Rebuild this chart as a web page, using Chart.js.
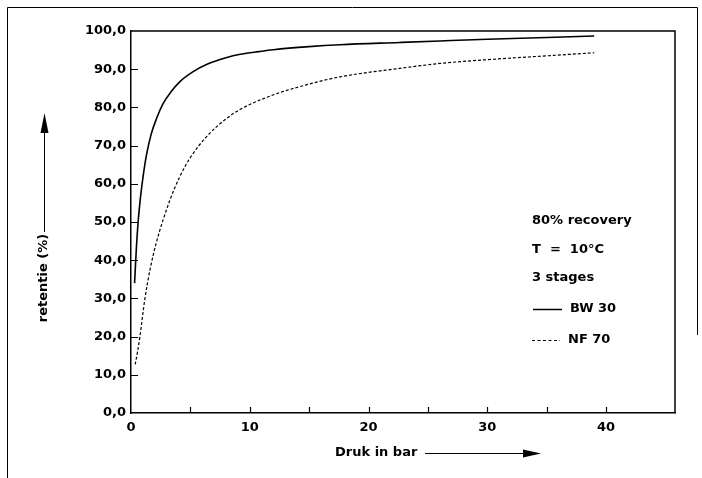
<!DOCTYPE html>
<html>
<head>
<meta charset="utf-8">
<script src="https://cdn.jsdelivr.net/npm/chart.js@4.4.1/dist/chart.umd.min.js"></script>
<style>
  html, body { margin: 0; padding: 0; background: #fff; }
  #wrap { width: 702px; height: 478px; position: relative; }
</style>
</head>
<body>
<div id="wrap"><canvas id="retentie" width="702" height="478"></canvas></div>
<script>
// druk (bar) en retentie (%)
const bwDruk = [0.3, 0.45, 0.6, 0.8, 1.0, 1.3, 1.7, 2.2, 2.7, 3.4, 4.1, 5.2, 6.4, 8, 9.2, 10.5, 12, 15, 17.6, 22.6, 26, 30, 35, 39];
const bwRetentie = [34, 43, 50, 56.5, 61.5, 67.5, 73, 77.5, 81, 84.2, 86.7, 89.3, 91.3, 93.0, 93.9, 94.5, 95.1, 95.9, 96.4, 97.0, 97.4, 97.85, 98.3, 98.7];

const nfDruk = [0.35, 0.55, 0.75, 1.15, 1.6, 2.15, 3.25, 4.1, 5, 6.35, 8, 9.2, 12, 15, 17.6, 22.6, 26, 30, 35, 39];
const nfRetentie = [12.7, 16, 20, 29.5, 37.5, 44.8, 55.5, 61.8, 66.9, 72.3, 77.0, 79.5, 83.3, 86.1, 88, 90.2, 91.5, 92.5, 93.5, 94.3];

const xLabels = [0, 10, 20, 30, 40];
const legendLines = ['80% recovery', 'T  =  10°C', '3 stages'];
const seriesNames = ['BW 30', 'NF 70'];

const FONT = 'bold 13px "DejaVu Sans"';

const toPoints = (xs, ys) => xs.map((x, i) => ({ x: x, y: ys[i] }));

// kader, binnenwaartse streepjes, aslabels met pijlen en de legenda
const decor = {
  id: 'decor',
  afterDraw(chart) {
    const c = chart.ctx;
    const a = chart.chartArea;
    const xs = chart.scales.x;
    const ys = chart.scales.y;
    c.save();
    c.strokeStyle = '#000';
    c.fillStyle = '#000';

    // paginarand
    c.lineWidth = 1;
    c.beginPath();
    c.moveTo(7.5, 478); c.lineTo(7.5, 7.5); c.lineTo(697.5, 7.5); c.lineTo(697.5, 335);
    c.stroke();

    // bovenkant en rechterkant van het plotvak
    c.lineWidth = 1.5;
    c.beginPath();
    c.moveTo(a.left, a.top); c.lineTo(a.right, a.top); c.lineTo(a.right, a.bottom);
    c.stroke();

    // streepjes naar binnen
    c.lineWidth = 1.2;
    c.beginPath();
    xs.ticks.forEach(t => {
      if (t.value % 5 !== 0 || t.value === 0) return;
      const px = Math.round(xs.getPixelForValue(t.value)) + 0.5;
      c.moveTo(px, a.bottom); c.lineTo(px, a.bottom - 6);
    });
    ys.ticks.forEach(t => {
      if (t.value === 0 || t.value === 100) return;
      const py = Math.round(ys.getPixelForValue(t.value)) + 0.5;
      c.moveTo(a.left, py); c.lineTo(a.left + 7, py);
    });
    c.stroke();

    c.font = FONT;
    c.textBaseline = 'middle';

    // x-as titel met pijl
    c.textAlign = 'left';
    c.fillText('Druk in bar', 335, 453);
    c.lineWidth = 1;
    c.beginPath();
    c.moveTo(425, 453.5); c.lineTo(526, 453.5);
    c.stroke();
    c.beginPath();
    c.moveTo(541, 453.5); c.lineTo(523, 449.5); c.lineTo(523, 457.5); c.closePath();
    c.fill();

    // y-as titel met pijl
    c.save();
    c.translate(44, 278);
    c.rotate(-Math.PI / 2);
    c.textAlign = 'center';
    c.fillText('retentie (%)', 0, 0);
    c.restore();
    c.beginPath();
    c.moveTo(44.5, 232); c.lineTo(44.5, 128);
    c.stroke();
    c.beginPath();
    c.moveTo(44.5, 113); c.lineTo(40.5, 133); c.lineTo(48.5, 133); c.closePath();
    c.fill();

    // legenda
    c.textAlign = 'left';
    legendLines.forEach((txt, i) => c.fillText(txt, 532, 221 + i * 28.5));
    c.lineWidth = 1.5;
    c.beginPath();
    c.moveTo(533, 309.5); c.lineTo(562, 309.5);
    c.stroke();
    c.fillText(seriesNames[0], 570, 309);
    c.lineWidth = 1.2;
    c.setLineDash([3, 2.5]);
    c.beginPath();
    c.moveTo(532, 340.5); c.lineTo(560, 340.5);
    c.stroke();
    c.setLineDash([]);
    c.fillText(seriesNames[1], 568, 340);

    c.restore();
  }
};

const config = {
  type: 'line',
  data: {
    datasets: [
      {
        label: seriesNames[0],
        data: toPoints(bwDruk, bwRetentie),
        borderColor: '#000',
        borderWidth: 1.6,
        pointRadius: 0,
        cubicInterpolationMode: 'monotone',
        fill: false,
      },
      {
        label: seriesNames[1],
        data: toPoints(nfDruk, nfRetentie),
        borderColor: '#000',
        borderWidth: 1.2,
        borderDash: [3, 2],
        pointRadius: 0,
        cubicInterpolationMode: 'monotone',
        fill: false,
      }
    ]
  },
  options: {
    responsive: false,
    animation: false,
    devicePixelRatio: 1,
    layout: { padding: { left: 0, top: 31, right: 27, bottom: 0 } },
    plugins: {
      legend: { display: false },
      tooltip: { enabled: false },
    },
    scales: {
      x: {
        type: 'linear',
        min: 0,
        max: 45.8,
        afterBuildTicks: (scale) => {
          scale.ticks = scale.ticks.filter(t => t.value % 5 === 0);
        },
        afterFit: (scale) => { scale.height = 65; },
        grid: { display: false, drawTicks: false },
        border: { display: true, color: '#000', width: 1.5 },
        ticks: {
          stepSize: 5,
          padding: 7,
          color: '#000',
          font: { family: 'DejaVu Sans', size: 13, weight: 'bold' },
          maxRotation: 0,
          autoSkip: false,
          callback: (v) => xLabels.includes(v) ? String(v) : '',
        }
      },
      y: {
        type: 'linear',
        min: 0,
        max: 100,
        afterFit: (scale) => { scale.width = 131; },
        grid: { display: false, drawTicks: false },
        border: { display: true, color: '#000', width: 1.5 },
        ticks: {
          stepSize: 10,
          padding: 5,
          color: '#000',
          font: { family: 'DejaVu Sans', size: 13, weight: 'bold' },
          callback: (v) => v.toFixed(1).replace('.', ','),
        }
      }
    }
  },
  plugins: [decor]
};

new Chart(document.getElementById('retentie'), config);
</script>
</body>
</html>
